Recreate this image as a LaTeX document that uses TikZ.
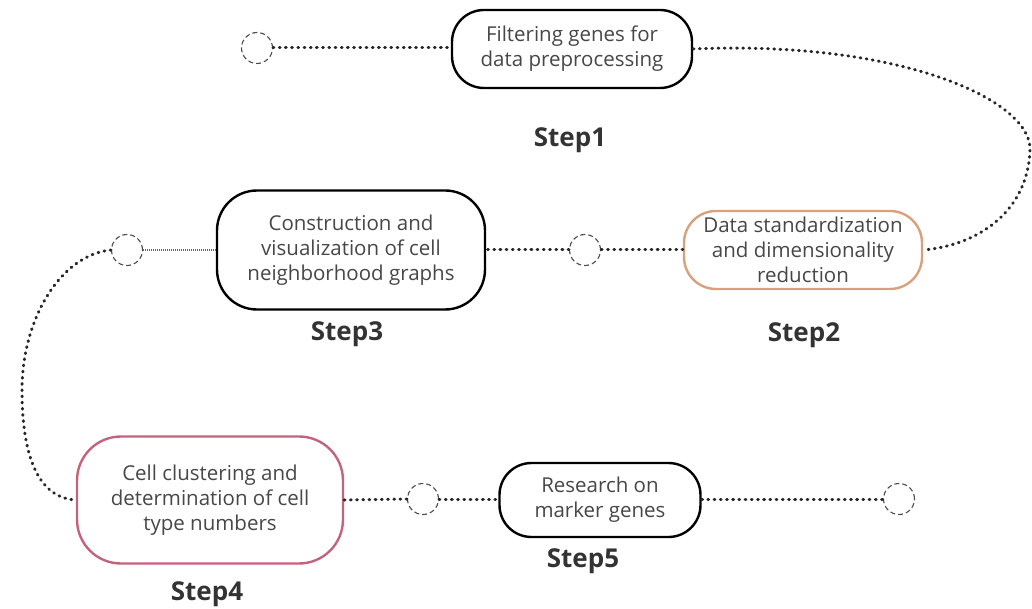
\documentclass[tikz,border=0pt]{standalone}
\usepackage{fontspec}
\setmainfont{Open Sans}
\begin{document}
\begin{tikzpicture}[x=1pt,y=-1pt,
  box/.style={draw=#1, line width=2.4pt, rounded corners=32pt, align=center, text=black!72,
     font=\fontsize{20.5}{25}\selectfont, inner sep=0pt},
  hole/.style={draw=black!70, circle, dashed, dash pattern=on 5pt off 3pt, line width=1.1pt, minimum size=31pt, inner sep=0pt},
  dots/.style={line width=3pt, line cap=round, dash pattern=on 0.8pt off 5.4pt, black!85},
  fine/.style={line width=1.8pt, dash pattern=on 1pt off 1pt, black!60},
  steplbl/.style={font=\fontsize{26}{30}\selectfont\bfseries, text=black!80}
]
\useasboundingbox (0,0) rectangle (1032,609);
\definecolor{orng}{HTML}{D9A07E}
\definecolor{pnk}{HTML}{C4637C}

% nodes
\node[box=black, minimum width=240pt, minimum height=78pt] (n1) at (572,49) {Filtering genes for\\data preprocessing};
\node[box=orng, minimum width=238pt, minimum height=78pt] (n2) at (803,250) {Data standardization\\and dimensionality\\reduction};
\node[box=black, minimum width=268pt, minimum height=119pt, rounded corners=40pt] (n3) at (351,250) {Construction and\\visualization of cell\\neighborhood graphs};
\node[box=pnk, minimum width=266pt, minimum height=127pt, rounded corners=44pt] (n4) at (210,500) {Cell clustering and\\determination of cell\\type numbers};
\node[box=black, minimum width=201pt, minimum height=74pt] (n5) at (600,500) {Research on\\marker genes};

\node[hole] (c1) at (257,48) {};
\node[hole] (c2) at (585,250) {};
\node[hole] (c3) at (127,250) {};
\node[hole] (c4) at (423,499) {};
\node[hole] (c5) at (899,499) {};

\node[steplbl] (s1) at (570,140) {Step1};
\node[steplbl] (s2) at (804,335) {Step2};
\node[steplbl] (s3) at (347,334) {Step3};
\node[steplbl] (s4) at (207,594) {Step4};
\node[steplbl] (s5) at (583,561) {Step5};

% connectors
\draw[dots] (c1.east) -- (n1.west |- c1.east);
\draw[dots] (n1.east) .. controls (900,40) and (1032,100) .. (1030,150)
            .. controls (1028,210) and (980,245) .. (n2.east);
\draw[dots] (n2.west) -- (c2.east);
\draw[dots] (c2.west) -- (n3.east);
\draw[fine] (c3.east) -- (n3.west);
\draw[dots] (c3.west) .. controls (60,255) and (22,320) .. (22,390)
            .. controls (22,460) and (40,498) .. (n4.west);
\draw[dots] (n4.east) -- (c4.west);
\draw[dots] (c4.east) -- (n5.west |- c4.east);
\draw[dots] (n5.east |- c5.west) -- (c5.west);
\end{tikzpicture}
\end{document}
